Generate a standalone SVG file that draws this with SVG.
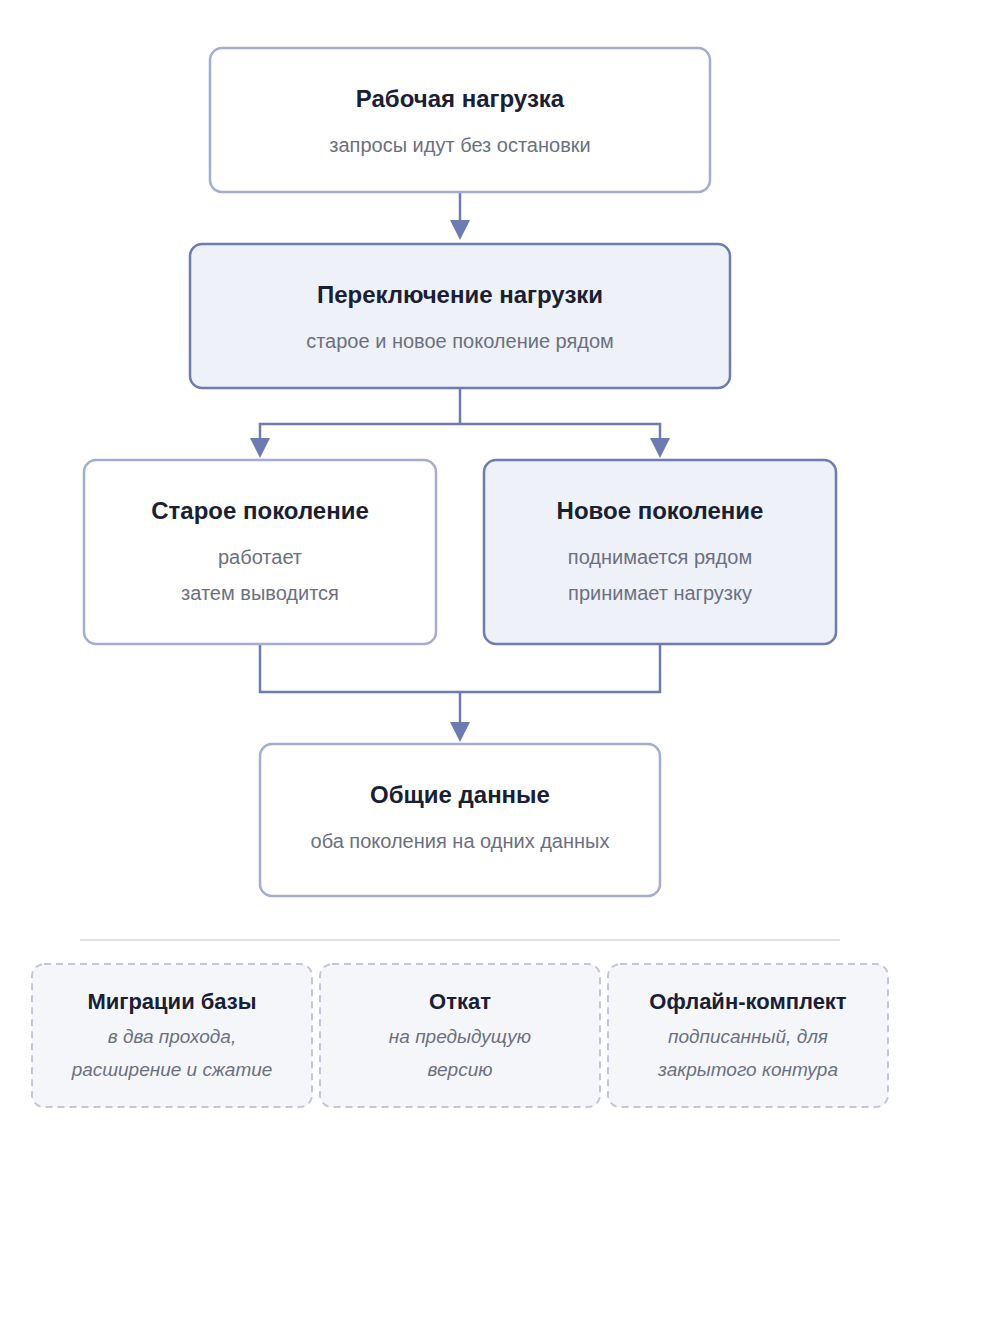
<svg xmlns="http://www.w3.org/2000/svg" width="1000" height="1328" viewBox="0 0 1000 1328">
<style>
text{font-family:"Liberation Sans",Arial,sans-serif;text-anchor:middle}
.t{font-size:24px;font-weight:bold;fill:#1a2033}
.s{font-size:20px;fill:#6b7080}
.bt{font-size:22px;font-weight:bold;fill:#1a2033}
.i{font-size:19px;font-style:italic;fill:#6b7080}
.n1{fill:#fff;stroke:#a2adcf;stroke-width:2.5}
.n2{fill:#eef1f8;stroke:#6e7bb0;stroke-width:2.5}
.d{fill:#f5f6fa;stroke:#c3c6d6;stroke-width:2;stroke-dasharray:7 5}
.c{fill:none;stroke:#6e7bb0;stroke-width:2.5}
</style>
<defs><marker id="a" markerWidth="10" markerHeight="10" refX="5" refY="9" orient="auto" markerUnits="userSpaceOnUse" viewBox="0 0 10 10"><path d="M0,0 L10,0 L5,10Z" fill="#6e7bb0"/></marker></defs>
<rect width="1000" height="1328" fill="#fff"/>
<g id="connectors">
<path class="c" d="M460,192 V222"/><path d="M450,220 L470,220 L460,240Z" fill="#6e7bb0"/>
<path class="c" d="M460,388 V424 H260 V440 M460,424 H660 V440"/>
<path d="M250,438 L270,438 L260,458Z" fill="#6e7bb0"/><path d="M650,438 L670,438 L660,458Z" fill="#6e7bb0"/>
<path class="c" d="M260,644 V692 H660 V644 M460,692 V724"/>
<path d="M450,722 L470,722 L460,742Z" fill="#6e7bb0"/>
</g>
<g id="n1"><rect class="n1" x="210" y="48" width="500" height="144" rx="12"/><text class="t" x="460" y="107">Рабочая нагрузка</text><text class="s" x="460" y="152">запросы идут без остановки</text></g>
<g id="n2"><rect class="n2" x="190" y="244" width="540" height="144" rx="12"/><text class="t" x="460" y="303">Переключение нагрузки</text><text class="s" x="460" y="348">старое и новое поколение рядом</text></g>
<g id="n3"><rect class="n1" x="84" y="460" width="352" height="184" rx="12"/><text class="t" x="260" y="519">Старое поколение</text><text class="s" x="260" y="564">работает</text><text class="s" x="260" y="600">затем выводится</text></g>
<g id="n4"><rect class="n2" x="484" y="460" width="352" height="184" rx="12"/><text class="t" x="660" y="519">Новое поколение</text><text class="s" x="660" y="564">поднимается рядом</text><text class="s" x="660" y="600">принимает нагрузку</text></g>
<g id="n5"><rect class="n1" x="260" y="744" width="400" height="152" rx="12"/><text class="t" x="460" y="803">Общие данные</text><text class="s" x="460" y="848">оба поколения на одних данных</text></g>
<line x1="80" y1="940" x2="840" y2="940" stroke="#d4d6e0" stroke-width="1.5"/>
<g id="f1"><rect class="d" x="32" y="964" width="280" height="143" rx="12"/><text class="bt" x="172" y="1009">Миграции базы</text><text class="i" x="172" y="1043">в два прохода,</text><text class="i" x="172" y="1076">расширение и сжатие</text></g>
<g id="f2"><rect class="d" x="320" y="964" width="280" height="143" rx="12"/><text class="bt" x="460" y="1009">Откат</text><text class="i" x="460" y="1043">на предыдущую</text><text class="i" x="460" y="1076">версию</text></g>
<g id="f3"><rect class="d" x="608" y="964" width="280" height="143" rx="12"/><text class="bt" x="748" y="1009">Офлайн-комплект</text><text class="i" x="748" y="1043">подписанный, для</text><text class="i" x="748" y="1076">закрытого контура</text></g>
</svg>
